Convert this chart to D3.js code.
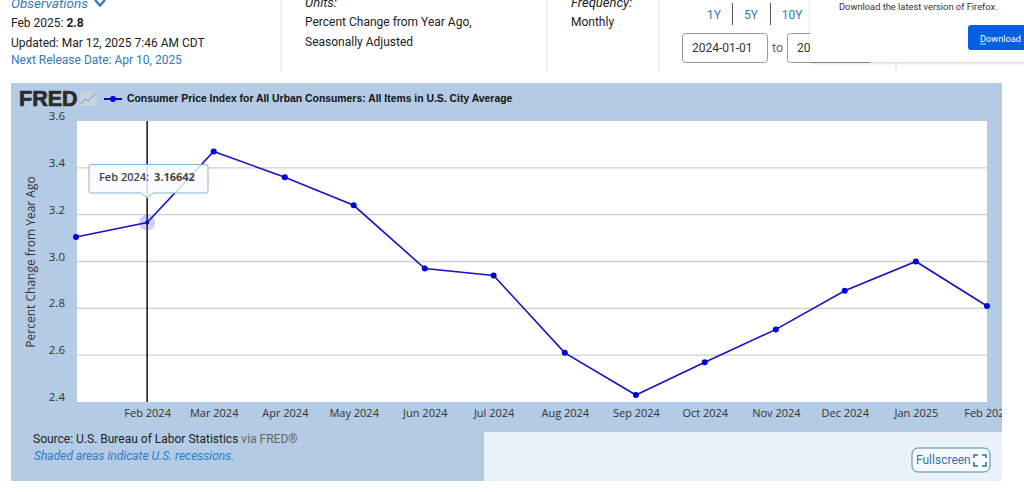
<!DOCTYPE html>
<html><head><meta charset="utf-8">
<script src="https://cdn.jsdelivr.net/npm/d3@7"></script>
<style>
html,body{margin:0;padding:0;background:#fff;overflow:hidden}
svg{display:block}
text{font-family:Roboto,sans-serif}
.axis text{font-family:"Open Sans",sans-serif;font-size:11px;fill:#333}
.axis path,.axis line{display:none}
</style></head><body>
<svg id="c" width="1024" height="492"></svg>
<script>
const months=["2024-01-01","2024-02-01","2024-03-01","2024-04-01","2024-05-01","2024-06-01","2024-07-01","2024-08-01","2024-09-01","2024-10-01","2024-11-01","2024-12-01","2025-01-01","2025-02-01"];
const values=[3.105,3.16642,3.47,3.36,3.24,2.97,2.94,2.61,2.43,2.57,2.71,2.875,3.00,2.81];
const yTicks=[2.4,2.6,2.8,3.0,3.2,3.4,3.6];
const seriesTitle="Consumer Price Index for All Urban Consumers: All Items in U.S. City Average";
const yTitle="Percent Change from Year Ago";
const hoverIndex=1;

const svg=d3.select("#c");
const dates=months.map(d=>new Date(d+"T00:00:00Z"));
const x=d3.scaleUtc().domain([dates[0],dates[dates.length-1]]).range([76,987]);
const y=d3.scaleLinear().domain([2.4,3.6]).range([402,121]);
const fmt=d3.utcFormat("%b %Y");

function T(px,py,s,o={}){
  const t=svg.append("text").attr("x",px).attr("y",py).text(s)
    .attr("font-size",o.size||12).attr("fill",o.fill||"#222");
  if(o.italic)t.attr("font-style","italic");
  if(o.bold)t.attr("font-weight",700);
  if(o.family)t.style("font-family",o.family);
  if(o.anchor)t.attr("text-anchor",o.anchor);
  return t;
}
// header
const link="#337ab7";
T(11,8,"Observations",{size:13.5,italic:true,fill:link});
svg.append("path").attr("d","M95 0L100 5.5L105 0").attr("fill","none").attr("stroke",link).attr("stroke-width",2.4);
const feb=T(11,27,"Feb 2025: ",{});
feb.append("tspan").attr("font-weight",700).text("2.8");
T(11,47,"Updated: Mar 12, 2025 7:46 AM CDT",{});
T(11,64,"Next Release Date: Apr 10, 2025",{fill:link});
T(305,7,"Units:",{size:13,italic:true});
T(305,26,"Percent Change from Year Ago,",{});
T(305,46,"Seasonally Adjusted",{});
T(571,7,"Frequency:",{size:13,italic:true});
T(571,26,"Monthly",{});
[281,547,659,896].forEach(px=>svg.append("line").attr("x1",px).attr("x2",px).attr("y1",0).attr("y2",72).attr("stroke","#dfe5ea").attr("stroke-width",1));
T(714,19,"1Y",{fill:link,anchor:"middle"});
T(751,19,"5Y",{fill:link,anchor:"middle"});
T(792,19,"10Y",{fill:link,anchor:"middle"});
[732,770].forEach(px=>svg.append("line").attr("x1",px+.5).attr("x2",px+.5).attr("y1",3).attr("y2",25).attr("stroke","#555"));
svg.append("rect").attr("x",682.5).attr("y",33.5).attr("width",85).attr("height",29).attr("rx",3).attr("fill","#fff").attr("stroke","#999");
T(692,52,"2024-01-01",{size:12,fill:"#333"});
T(772,52,"to",{size:12.5,fill:"#666"});
svg.append("rect").attr("x",787.5).attr("y",33.5).attr("width",85).attr("height",29).attr("rx",3).attr("fill","#fff").attr("stroke","#999");
T(797,52,"20",{size:12,fill:"#333"});
// popup
const defs=svg.append("defs");
const f=defs.append("filter").attr("id","sh").attr("x","-10%").attr("y","-20%").attr("width","120%").attr("height","140%");
f.append("feDropShadow").attr("dx",0).attr("dy",1).attr("stdDeviation",1.5).attr("flood-color","#000").attr("flood-opacity",.18);
svg.append("rect").attr("x",810).attr("y",-6).attr("width",230).attr("height",68).attr("rx",3).attr("fill","#fff").attr("filter","url(#sh)");
T(839,10,"Download the latest version of Firefox.",{size:9.3,fill:"#333"});
svg.append("rect").attr("x",968).attr("y",25).attr("width",70).attr("height",25).attr("rx",3).attr("fill","#0060df");
T(980,42,"Download",{size:9.2,fill:"#fff"});
svg.append("line").attr("x1",980).attr("x2",986).attr("y1",44).attr("y2",44).attr("stroke","#fff").attr("stroke-width",.8);

// panel
svg.append("rect").attr("x",11).attr("y",83).attr("width",991).attr("height",349).attr("fill","#b3cbe4");
svg.append("rect").attr("x",11).attr("y",432).attr("width",473).attr("height",49).attr("fill","#b3cbe4");
svg.append("rect").attr("x",484).attr("y",432).attr("width",518).attr("height",49).attr("fill","#e9f2fa");
svg.append("rect").attr("x",77).attr("y",121).attr("width",910).attr("height",281).attr("fill","#fff");

// FRED logo + legend
T(19,105.5,"FRED",{size:21.5,bold:true,fill:"#2b2b2b",family:"'Liberation Sans',sans-serif"}).attr("stroke","#2b2b2b").attr("stroke-width",.7);
svg.append("rect").attr("x",80).attr("y",91).attr("width",17).attr("height",15).attr("fill","#c6d3df");
svg.append("path").attr("d","M81 104L85 99L88 101L96 93").attr("fill","none").attr("stroke","#8a949c").attr("stroke-width",1);
svg.append("line").attr("x1",104).attr("x2",122).attr("y1",99).attr("y2",99).attr("stroke","#0000dd").attr("stroke-width",2);
svg.append("circle").attr("cx",113).attr("cy",99).attr("r",3).attr("fill","#0000dd");
T(127,102,seriesTitle,{size:10.4,bold:true,fill:"#111",family:"'Liberation Sans',sans-serif"});

// grid
svg.append("g").selectAll("line").data(yTicks.filter(v=>v>2.4&&v<3.6)).join("line")
  .attr("x1",77).attr("x2",987).attr("y1",d=>y(d)).attr("y2",d=>y(d))
  .attr("stroke","#cfcfcf").attr("stroke-width",1.3);

// clip axis labels at the panel edge
defs.append("clipPath").attr("id","pc").append("rect").attr("x",11).attr("y",83).attr("width",991).attr("height",349);

// axes
const gxWrap=svg.append("g").attr("clip-path","url(#pc)");
const gx=gxWrap.append("g").attr("class","axis").attr("transform","translate(0,402)")
  .call(d3.axisBottom(x).tickValues(dates.slice(1)).tickFormat(fmt).tickSize(0));
gx.selectAll("text").attr("dy",0).attr("y",15);
const gy=svg.append("g").attr("class","axis").attr("transform","translate(65,0)")
  .call(d3.axisLeft(y).tickValues(yTicks).tickFormat(d3.format(".1f")).tickSize(0));
gy.selectAll("text").attr("x",0).attr("dy",0).attr("y",-1.5).style("font-size","11.5px");
gy.selectAll(".tick text").attr("text-anchor","end");
svg.append("text").attr("transform","translate(35,262) rotate(-90)").attr("text-anchor","middle")
  .attr("font-size",12).attr("fill","#333").style("font-family","'Open Sans',sans-serif").text(yTitle);

// crosshair
svg.append("line").attr("x1",x(dates[hoverIndex])).attr("x2",x(dates[hoverIndex])).attr("y1",121).attr("y2",402)
  .attr("stroke","#111").attr("stroke-width",1.5);

// series
const line=d3.line().x((d,i)=>x(dates[i])).y(d=>y(d));
svg.append("path").datum(values).attr("d",line).attr("fill","none").attr("stroke","#1a12c4").attr("stroke-width",1.6);
svg.append("circle").attr("cx",x(dates[hoverIndex])).attr("cy",y(values[hoverIndex])).attr("r",8).attr("fill","#2a2ae0").attr("opacity",.22);
svg.append("g").selectAll("circle").data(values).join("circle")
  .attr("cx",(d,i)=>x(dates[i])).attr("cy",d=>y(d)).attr("r",(d,i)=>i===hoverIndex?2:3).attr("fill","#0000dd");

// tooltip
const px=x(dates[hoverIndex]);
svg.append("path").attr("d",`M91 164.5H206a2 2 0 0 1 2 2V191a2 2 0 0 1 -2 2H${px+6}L${px} 198L${px-6} 193H91a2 2 0 0 1 -2 -2V166.5a2 2 0 0 1 2 -2Z`)
  .attr("fill","#f9fbfd").attr("fill-opacity",.85).attr("stroke","#86b4d8").attr("stroke-width",1);
const tt=svg.append("text").attr("x",99).attr("y",181).attr("font-size",11).attr("fill","#444").style("font-family","'Open Sans',sans-serif").attr("font-weight",600)
  .text(fmt(dates[hoverIndex])+":");
tt.append("tspan").attr("x",154).attr("font-weight",700).text(values[hoverIndex].toFixed(5));

// footer
const src=T(33,443,"Source: U.S. Bureau of Labor Statistics",{fill:"#222"});
src.append("tspan").attr("fill","#666").text(" via FRED®");
T(34,460,"Shaded areas indicate U.S. recessions.",{italic:true,fill:"#2a7bc8"});
svg.append("rect").attr("x",912).attr("y",448).attr("width",78).attr("height",24).attr("rx",6).attr("fill","#fff").attr("fill-opacity",.6).attr("stroke","#4b86ad");
T(916,464,"Fullscreen",{fill:"#33739f"});
svg.append("path").attr("d","M974 458V455H978M982 455H986V458M986 462V466H982M978 466H974V462").attr("fill","none").attr("stroke","#33739f").attr("stroke-width",1.6);
</script></body></html>
